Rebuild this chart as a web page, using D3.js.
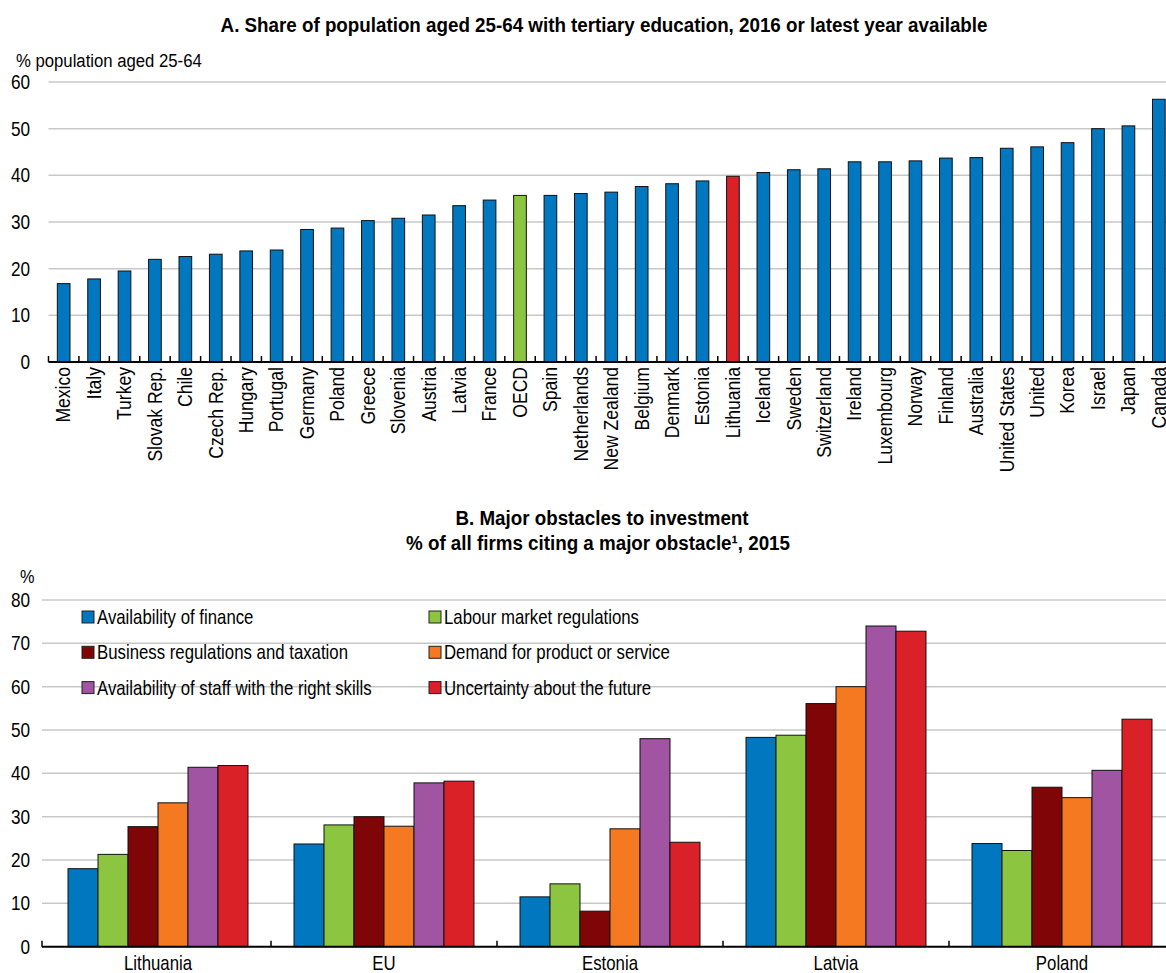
<!DOCTYPE html>
<html>
<head>
<meta charset="utf-8">
<script src="https://cdn.jsdelivr.net/npm/d3@7"></script>
<style>
    body { margin: 0; background: #fff; }
    text { font-family: "Liberation Sans Narrow", "Arial Narrow", "Liberation Sans", Arial, sans-serif; fill: #000; }
    .grid line { stroke: #c8c8c8; stroke-width: 1.5; }
    .bar { stroke: #111; stroke-width: 1; }
</style>
</head>
<body>
<div id="chart"></div>
<script>
// Panel A data
var countries = ["Mexico", "Italy", "Turkey", "Slovak Rep.", "Chile", "Czech Rep.", "Hungary", "Portugal",
    "Germany", "Poland", "Greece", "Slovenia", "Austria", "Latvia", "France", "OECD", "Spain", "Netherlands",
    "New Zealand", "Belgium", "Denmark", "Estonia", "Lithuania", "Iceland", "Sweden", "Switzerland", "Ireland",
    "Luxembourg", "Norway", "Finland", "Australia", "United States", "United", "Korea", "Israel", "Japan", "Canada"];
var tertiaryShare = [16.8, 17.8, 19.5, 22.0, 22.6, 23.1, 23.8, 24.0, 28.4, 28.7, 30.3, 30.8, 31.5, 33.5, 34.7,
    35.7, 35.7, 36.1, 36.4, 37.6, 38.2, 38.8, 39.8, 40.6, 41.2, 41.4, 42.9, 42.9, 43.1, 43.7, 43.8, 45.8, 46.1,
    47.0, 50.0, 50.6, 56.3];
var ticksA = [0, 10, 20, 30, 40, 50, 60];

// Panel B data
var groups = ["Lithuania", "EU", "Estonia", "Latvia", "Poland"];
var obstacles = ["Availability of finance", "Labour market regulations", "Business regulations and taxation",
    "Demand for product or service", "Availability of staff with the right skills", "Uncertainty about the future"];
var finance = [18.0, 23.7, 11.5, 48.3, 23.8];
var labour = [21.3, 28.1, 14.5, 48.8, 22.2];
var business = [27.7, 30.0, 8.2, 56.1, 36.8];
var demand = [33.2, 27.8, 27.2, 60.0, 34.4];
var staff = [41.4, 37.8, 48.0, 74.0, 40.7];
var uncertainty = [41.8, 38.2, 24.1, 72.8, 52.5];
var ticksB = [0, 10, 20, 30, 40, 50, 60, 70, 80];

var colors = ["#0177bf", "#8cc641", "#7f0506", "#f47920", "#a154a1", "#da2128"];

var width = 1166, height = 973;

var svg = d3.select("#chart")
    .append("svg")
    .attr("width", width)
    .attr("height", height);

// no narrow font installed, so squeeze the glyphs a bit to get the Arial Narrow look
function label(parent, x, y, str, size, k, anchor, bold)
{
    return parent.append("text")
        .attr("transform", "translate(" + x + "," + y + ") scale(" + k + ",1)")
        .style("font-size", size + "px")
        .style("text-anchor", anchor || "start")
        .style("font-weight", bold ? "bold" : "normal")
        .text(str);
}

// ---------------- Panel A ----------------
var yA = d3.scaleLinear().domain([0, 60]).range([362, 82]);
var xA = d3.scaleBand().domain(countries).range([48.5, 1174]).paddingInner(0.583).paddingOuter(0.29);

label(svg, 604, 32, "A. Share of population aged 25-64 with tertiary education, 2016 or latest year available", 21, 0.895, "middle", true);
label(svg, 16, 67, "% population aged 25-64", 19, 0.88);

// gridlines
svg.append("g")
    .attr("class", "grid")
    .selectAll("line")
    .data(ticksA.slice(1))
    .enter().append("line")
    .attr("x1", 48.5).attr("x2", width)
    .attr("y1", d => yA(d)).attr("y2", d => yA(d));

// y tick labels
var tickGA = svg.append("g");
ticksA.forEach(d => {
    label(tickGA, 30, yA(d), d, 20, 0.86, "end").attr("dy", "0.35em");
});

// bars
svg.append("g")
    .selectAll("rect")
    .data(countries)
    .enter().append("rect")
    .attr("class", "bar")
    .attr("x", d => xA(d))
    .attr("width", xA.bandwidth())
    .attr("y", (d, i) => yA(tertiaryShare[i]))
    .attr("height", (d, i) => yA(0) - yA(tertiaryShare[i]))
    .attr("fill", d => d == "Lithuania" ? colors[5] : (d == "OECD" ? colors[1] : colors[0]));

// x axis with ticks between the categories
var stepA = xA.step();
svg.append("line")
    .attr("x1", 48.5).attr("x2", width)
    .attr("y1", yA(0)).attr("y2", yA(0))
    .attr("stroke", "#000").attr("stroke-width", 2);
svg.append("g")
    .selectAll("line")
    .data(d3.range(countries.length + 1))
    .enter().append("line")
    .attr("x1", i => 48.5 + i * stepA).attr("x2", i => 48.5 + i * stepA)
    .attr("y1", yA(0)).attr("y2", yA(0) - 6)
    .attr("stroke", "#000").attr("stroke-width", 1.5);

svg.append("g")
    .selectAll("text")
    .data(countries)
    .enter().append("text")
    .attr("transform", d => "translate(" + (xA(d) + xA.bandwidth() / 2) + "," + 367 + ") rotate(-90) scale(0.9,1)")
    .attr("dy", "0.35em")
    .style("text-anchor", "end")
    .style("font-size", "19.5px")
    .text(d => d);

// ---------------- Panel B ----------------
var yB = d3.scaleLinear().domain([0, 80]).range([946.7, 600]);
var xB = d3.scaleBand().domain(groups).range([45, 1175]);
var xInner = d3.scaleBand().domain(obstacles).range([0, xB.bandwidth()]).paddingOuter(0.767);
var seriesB = [finance, labour, business, demand, staff, uncertainty];

label(svg, 602, 525, "B. Major obstacles to investment", 21, 0.895, "middle", true);
label(svg, 598, 550, "% of all firms citing a major obstacle¹, 2015", 21, 0.895, "middle", true);
label(svg, 20, 583, "%", 19, 0.86);

svg.append("g")
    .attr("class", "grid")
    .selectAll("line")
    .data(ticksB.slice(1))
    .enter().append("line")
    .attr("x1", 42).attr("x2", width)
    .attr("y1", d => yB(d)).attr("y2", d => yB(d));

var tickGB = svg.append("g");
ticksB.forEach(d => {
    label(tickGB, 30, yB(d), d, 20, 0.86, "end").attr("dy", "0.35em");
});

// legend
var legend = svg.append("g")
    .selectAll("g")
    .data(obstacles)
    .enter().append("g")
    .attr("transform", (d, i) => "translate(" + (i % 2 == 0 ? 82 : 429) + "," + (617 + Math.floor(i / 2) * 35.3) + ")");
legend.append("rect")
    .attr("x", 0).attr("y", -6)
    .attr("width", 12).attr("height", 12)
    .attr("fill", (d, i) => colors[i])
    .attr("stroke", "#222").attr("stroke-width", 1);
legend.append("text")
    .attr("transform", "translate(15,0) scale(0.84,1)")
    .attr("dy", "0.35em")
    .style("font-size", "20px")
    .text(d => d);

// bars
var groupG = svg.append("g")
    .selectAll("g")
    .data(groups)
    .enter().append("g")
    .attr("transform", d => "translate(" + xB(d) + ",0)");
groupG.selectAll("rect")
    .data((g, gi) => obstacles.map((o, si) => ({ key: o, si: si, value: seriesB[si][gi] })))
    .enter().append("rect")
    .attr("class", "bar")
    .attr("x", d => xInner(d.key))
    .attr("width", xInner.bandwidth())
    .attr("y", d => yB(d.value))
    .attr("height", d => yB(0) - yB(d.value))
    .attr("fill", d => colors[d.si]);

// x axis
svg.append("line")
    .attr("x1", 42).attr("x2", width)
    .attr("y1", yB(0)).attr("y2", yB(0))
    .attr("stroke", "#000").attr("stroke-width", 2);
svg.append("g")
    .selectAll("line")
    .data(d3.range(groups.length + 1))
    .enter().append("line")
    .attr("x1", i => (i == 0 ? 42 : 45 + i * xB.step()))
    .attr("x2", i => (i == 0 ? 42 : 45 + i * xB.step()))
    .attr("y1", yB(0)).attr("y2", yB(0) - 6)
    .attr("stroke", "#000").attr("stroke-width", 1.5);

var xLabG = svg.append("g");
groups.forEach(d => {
    label(xLabG, xB(d) + xB.bandwidth() / 2, 970, d, 20, 0.84, "middle");
});
</script>
</body>
</html>
